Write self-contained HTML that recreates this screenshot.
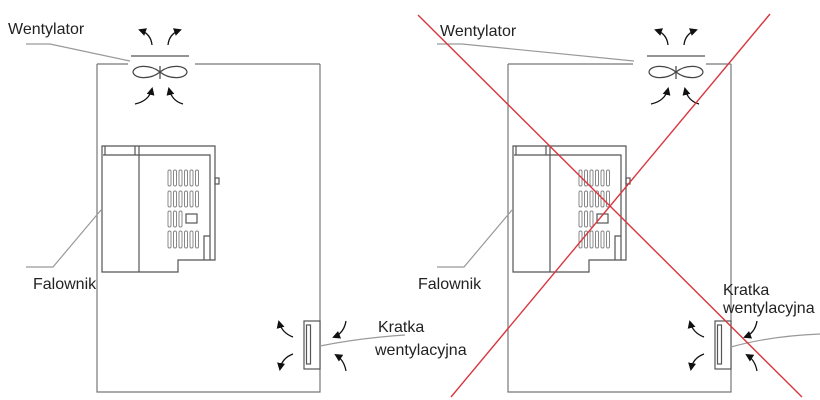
<!DOCTYPE html>
<html><head><meta charset="utf-8"><style>
html,body{margin:0;padding:0;background:#fff;width:820px;height:400px;overflow:hidden}
text{font-family:"Liberation Sans",Arial,sans-serif;font-size:16px;fill:#222}
</style></head><body>
<svg width="820" height="400" viewBox="0 0 820 400" xmlns="http://www.w3.org/2000/svg">
<defs>
<marker id="ah" markerWidth="8" markerHeight="8" refX="6" refY="4" orient="auto" markerUnits="userSpaceOnUse">
<path d="M0,0 L8,4 L0,8 Z" fill="#111"/></marker>
<g id="fan" fill="none" stroke-width="1.2">
 <line x1="131" y1="56" x2="189" y2="56" stroke="#555"/>
 <path d="M160,72 C150,64 134,65 133,72 C134,79 150,80 160,72 C170,64 186,65 187,72 C186,79 170,80 160,72 Z" stroke="#444"/>
 <line x1="160" y1="66" x2="160" y2="79" stroke="#444"/>
 <g stroke="#111" stroke-width="1.3">
 <path d="M152,45 Q151,34 140,30" marker-end="url(#ah)"/>
 <path d="M168,45 Q169,34 180,30" marker-end="url(#ah)"/>
 <path d="M135,104 Q149,101 152,89" marker-end="url(#ah)"/>
 <path d="M183,104 Q172,101 169,89" marker-end="url(#ah)"/>
 </g>
</g>
<g id="base" fill="none" stroke="#777" stroke-width="1.2">
 <path d="M97,64 V392 H320 V64"/>
 <g stroke="#111" stroke-width="1.3">
 <path d="M293,337 Q282,333 279,322" marker-end="url(#ah)"/>
 <path d="M293,354 Q282,358 280,369" marker-end="url(#ah)"/>
 <path d="M346,321 Q344,333 334,337" marker-end="url(#ah)"/>
 <path d="M346,371 Q344,360 336,355" marker-end="url(#ah)"/>
 </g>
 <g stroke="#555">
 <path d="M102,146 H215 V260 H178 V272 H102 Z"/>
 <path d="M103,155 H210 V260"/>
 <line x1="139" y1="146" x2="139" y2="272"/>
 <line x1="135" y1="146" x2="135" y2="155"/>
 <line x1="105" y1="146" x2="105" y2="155"/>
 <rect x="215" y="178" width="4" height="6"/>
 <path d="M204,260 V236 H210"/>
 <rect x="186" y="214" width="11" height="9"/>
 </g>
 <g stroke="#888" stroke-width="1">
  <rect x="168" y="170" width="3" height="16" rx="1.5"/><rect x="173.5" y="170" width="3" height="16" rx="1.5"/><rect x="179" y="170" width="3" height="16" rx="1.5"/><rect x="184.5" y="170" width="3" height="16" rx="1.5"/><rect x="190" y="170" width="3" height="16" rx="1.5"/><rect x="195.5" y="170" width="3" height="16" rx="1.5"/>
  <rect x="168" y="191" width="3" height="16" rx="1.5"/><rect x="173.5" y="191" width="3" height="16" rx="1.5"/><rect x="179" y="191" width="3" height="16" rx="1.5"/><rect x="184.5" y="191" width="3" height="16" rx="1.5"/><rect x="190" y="191" width="3" height="16" rx="1.5"/><rect x="195.5" y="191" width="3" height="16" rx="1.5"/>
  <rect x="168" y="211" width="3" height="16" rx="1.5"/><rect x="173.5" y="211" width="3" height="16" rx="1.5"/><rect x="179" y="211" width="3" height="16" rx="1.5"/>
  <rect x="168" y="231" width="3" height="17" rx="1.5"/><rect x="173.5" y="231" width="3" height="17" rx="1.5"/><rect x="179" y="231" width="3" height="17" rx="1.5"/><rect x="184.5" y="231" width="3" height="17" rx="1.5"/><rect x="190" y="231" width="3" height="17" rx="1.5"/><rect x="195.5" y="231" width="3" height="17" rx="1.5"/>
 </g>
 <rect x="304" y="321" width="16" height="48" fill="#fff" stroke="#555"/>
 <rect x="306.5" y="325" width="4" height="39" stroke="#555"/>
 <path d="M26,267 H53 L101,210" stroke="#999"/>
</g>
</defs>
<use href="#base"/>
<use href="#base" transform="translate(411,0)"/>
<use href="#fan"/>
<use href="#fan" transform="translate(516,0)"/>
<g fill="none" stroke="#777" stroke-width="1.2">
 <path d="M97,64 H128 M195,64 H320"/>
 <path d="M508,64 H633 M706,64 H731"/>
</g>
<g fill="none" stroke="#999" stroke-width="1.2">
 <path d="M26,44 H50 L130,61"/>
 <path d="M320,346 Q360,338 405,335"/>
 <path d="M437,44 H462 L634,61"/>
 <path d="M731,347 Q770,336 820,334"/>
</g>
<text x="8" y="34">Wentylator</text>
<text x="33" y="289">Falownik</text>
<text x="378" y="332">Kratka</text>
<text x="375" y="355">wentylacyjna</text>
<text x="440" y="36">Wentylator</text>
<text x="418" y="289">Falownik</text>
<text x="723" y="295">Kratka</text>
<text x="723" y="313">wentylacyjna</text>
<line x1="418" y1="15" x2="802" y2="397" stroke="#d9363e" stroke-width="1.4"/>
<line x1="451" y1="397" x2="770" y2="14" stroke="#d9363e" stroke-width="1.4"/>
</svg>
</body></html>
